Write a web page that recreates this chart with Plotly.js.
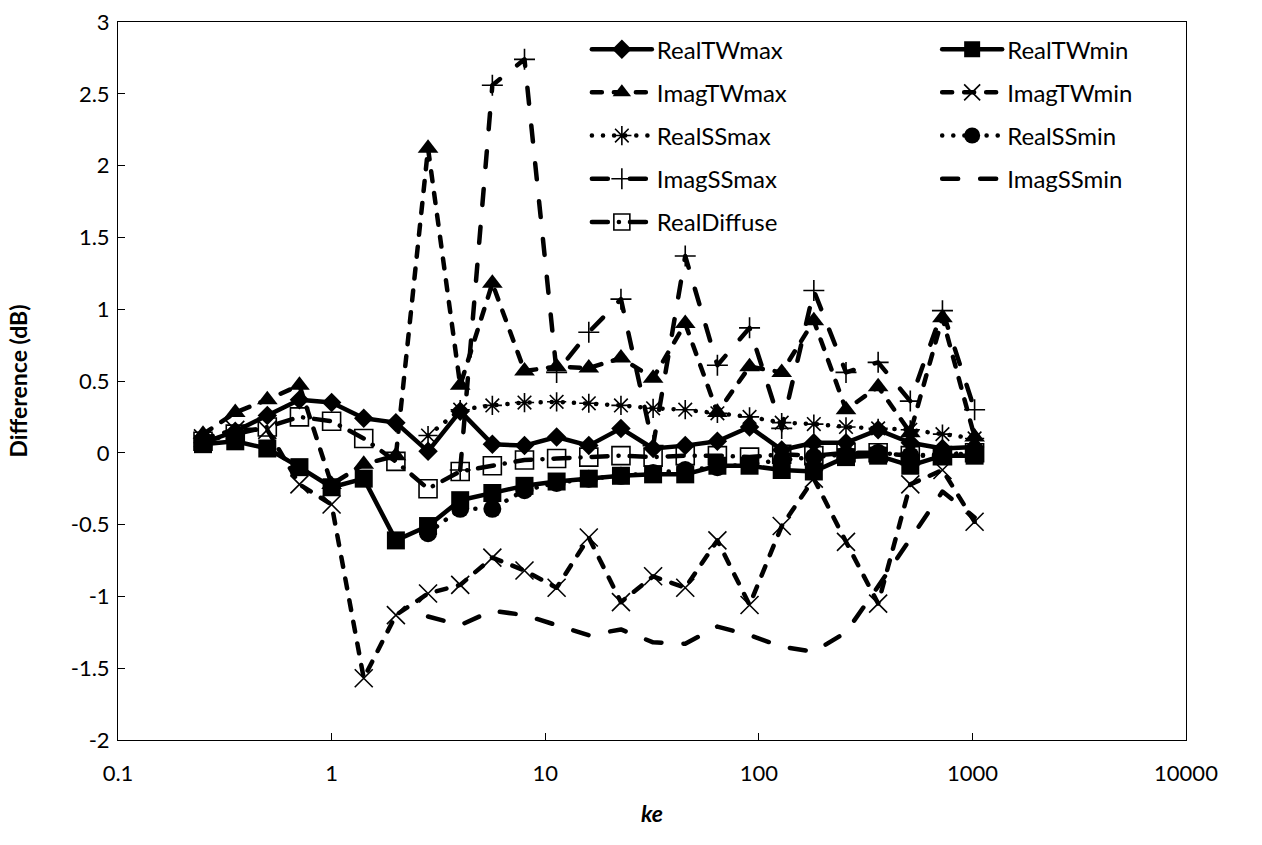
<!DOCTYPE html>
<html>
<head>
<meta charset="utf-8">
<script src="https://cdn.plot.ly/plotly-3.0.1.min.js"></script>
<style>
  html, body { margin: 0; padding: 0; background: #fff; }
  #chart { width: 1262px; height: 845px; }
  path.js-line { stroke-linecap: round !important; stroke-linejoin: round !important; }
</style>
</head>
<body>
<div id="chart"></div>
<script>
// ---- data ----
const ke = [0.25, 0.354, 0.5, 0.707, 1, 1.414, 2, 2.828, 4, 5.657, 8, 11.31, 16, 22.63, 32, 45.25, 64, 90.51, 128, 181.0, 256, 362.0, 512, 724.1, 1024];

const realTWmax = [0.07, 0.15, 0.26, 0.37, 0.35, 0.24, 0.21, 0.01, 0.29, 0.06, 0.05, 0.11, 0.05, 0.17, 0.03, 0.05, 0.08, 0.18, 0.02, 0.07, 0.07, 0.16, 0.07, 0.03, 0.04];
const realTWmin = [0.06, 0.08, 0.03, -0.10, -0.24, -0.18, -0.61, -0.51, -0.33, -0.28, -0.23, -0.20, -0.18, -0.16, -0.15, -0.15, -0.09, -0.09, -0.12, -0.13, -0.03, -0.02, -0.09, -0.02, -0.02];
const imagTWmax = [0.13, 0.28, 0.37, 0.47, -0.22, -0.08, -0.02, 2.12, 0.47, 1.18, 0.57, 0.60, 0.59, 0.66, 0.52, 0.90, 0.28, 0.60, 0.56, 0.92, 0.30, 0.46, 0.14, 0.94, 0.11];
const imagTWmin = [0.10, 0.16, 0.16, -0.22, -0.36, -1.57, -1.13, -0.98, -0.92, -0.73, -0.82, -0.94, -0.59, -1.04, -0.86, -0.94, -0.61, -1.06, -0.51, -0.18, -0.62, -1.05, -0.22, -0.12, -0.48];
const realSSmax = [null, null, null, null, null, null, null, 0.12, 0.30, 0.33, 0.35, 0.355, 0.345, 0.33, 0.31, 0.30, 0.275, 0.25, 0.21, 0.20, 0.18, 0.17, 0.16, 0.13, 0.10];
const realSSmin = [null, null, null, null, null, null, null, -0.56, -0.39, -0.39, -0.26, -0.21, -0.18, -0.16, -0.14, -0.12, -0.10, -0.08, -0.05, -0.03, -0.01, 0.00, -0.02, -0.01, 0.00];
const imagSSmax = [null, null, null, null, null, null, null, null, -0.12, 2.56, 2.74, 0.56, 0.84, 1.07, 0.05, 1.37, 0.61, 0.87, 0.17, 1.13, 0.56, 0.63, 0.36, 0.99, 0.30];
const imagSSmin = [null, null, null, null, null, null, null, -1.14, -1.20, -1.10, -1.13, -1.20, -1.27, -1.23, -1.32, -1.33, -1.21, -1.27, -1.35, -1.385, -1.25, -0.93, -0.60, -0.27, -0.45];
const realDiffuse = [0.08, 0.13, 0.18, 0.25, 0.22, 0.10, -0.06, -0.25, -0.13, -0.09, -0.05, -0.04, -0.03, -0.02, -0.03, -0.02, -0.02, -0.03, -0.01, -0.02, 0.00, 0.00, -0.02, -0.02, 0.00];

const yTickVals = [-2, -1.5, -1, -0.5, 0, 0.5, 1, 1.5, 2, 2.5, 3];
const yTickText = ['-2', '-1.5', '-1', '-0.5', '0', '0.5', '1', '1.5', '2', '2.5', '3'];
const xTickVals = [0.1, 1, 10, 100, 1000, 10000];
const xTickText = ['0.1', '1', '10', '100', '1000', '10000'];

// ---- styles ----
const FONT = 'Lato, "Open Sans", "Liberation Sans", sans-serif';
const LW = 4.5;
const solid = 'solid';
const shortDash = '10px,12px';
const longDash = '16px,22px';
const dotted = '0.1px,11px';
const longDashDot = '16px,11px,0.1px,11px';

function tr(name, y, dash, marker, legend) {
  return {
    type: 'scatter', mode: 'lines+markers', name: name, x: ke, y: y,
    legend: legend, legendgroup: name,
    line: { color: '#000', width: LW, dash: dash },
    marker: marker,
    connectgaps: false,
    hoverinfo: 'x+y+name'
  };
}

const traces = [
  tr('RealTWmax', realTWmax, solid, { symbol: 'diamond', size: 15, color: '#000' }, 'legend'),
  tr('RealTWmin', realTWmin, solid, { symbol: 'square', size: 18, color: '#000' }, 'legend2'),
  tr('ImagTWmax', imagTWmax, shortDash, { symbol: 'triangle-up', size: 18, color: '#000' }, 'legend'),
  tr('ImagTWmin', imagTWmin, shortDash, { symbol: 'x-thin-open', size: 18, color: '#000', line: { color: '#000', width: 1.6 } }, 'legend2'),
  tr('RealSSmax', realSSmax, dotted, { symbol: 'asterisk-open', size: 16, color: '#000', line: { color: '#000', width: 1.6 } }, 'legend'),
  tr('RealSSmin', realSSmin, dotted, { symbol: 'circle', size: 18, color: '#000' }, 'legend2'),
  tr('ImagSSmax', imagSSmax, longDash, { symbol: 'cross-thin-open', size: 15, color: '#000', line: { color: '#000', width: 1.6 } }, 'legend'),
  tr('ImagSSmin', imagSSmin, longDash, { symbol: 'circle', size: 1, color: '#000' }, 'legend2'),
  tr('RealDiffuse', realDiffuse, longDashDot, { symbol: 'square-open', size: 18, color: '#000', line: { color: '#000', width: 1.6 } }, 'legend')
];
// ImagSSmin has no markers
traces[7].mode = 'lines';
delete traces[7].marker;

const legendCommon = {
  font: { family: FONT, size: 24, color: '#000' },
  bgcolor: 'rgba(0,0,0,0)', borderwidth: 0,
  xref: 'paper', yref: 'paper', xanchor: 'left', yanchor: 'top',
  itemwidth: 60, tracegroupgap: 9, traceorder: 'grouped'
};

const layout = {
  width: 1262, height: 845,
  margin: { l: 118, r: 76, t: 22, b: 105 },
  paper_bgcolor: '#fff', plot_bgcolor: '#fff',
  showlegend: true,
  legend: Object.assign({}, legendCommon, { x: 0.439, y: 0.993 }),
  legend2: Object.assign({}, legendCommon, { x: 0.767, y: 0.993 }),
  xaxis: {
    type: 'log', range: [-1, 4],
    tickmode: 'array', tickvals: xTickVals, ticktext: xTickText,
    ticks: 'inside', ticklen: 7, tickwidth: 1, tickcolor: '#000',
    ticklabelstandoff: 14,
    showline: true, linecolor: '#000', linewidth: 1, mirror: true,
    showgrid: false, zeroline: false,
    tickfont: { family: FONT, size: 22, color: '#000' },
    title: { text: '<b><i>ke</i></b>', font: { family: FONT, size: 23, color: '#000' }, standoff: 20 }
  },
  yaxis: {
    range: [-2, 3],
    tickmode: 'array', tickvals: yTickVals, ticktext: yTickText,
    ticks: 'inside', ticklen: 7, tickwidth: 1, tickcolor: '#000',
    ticklabelstandoff: 3,
    showline: true, linecolor: '#000', linewidth: 1, mirror: true,
    showgrid: false, zeroline: false,
    tickfont: { family: FONT, size: 22, color: '#000' },
    title: { text: '<b>Difference (dB)</b>', font: { family: FONT, size: 23, color: '#000' }, standoff: 36 }
  }
};

Plotly.newPlot('chart', traces, layout, { staticPlot: true, displayModeBar: false });
</script>
</body>
</html>
